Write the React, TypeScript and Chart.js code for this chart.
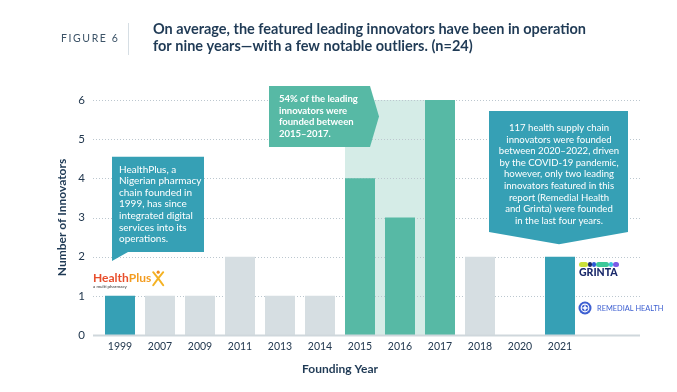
import React, { useEffect, useRef } from 'react';
import { Chart, registerables } from 'chart.js';

Chart.register(...registerables);

const years = ['1999', '2007', '2009', '2011', '2013', '2014', '2015', '2016', '2017', '2018', '2020', '2021'];
const innovators = [1, 1, 1, 2, 1, 1, 4, 3, 6, 2, 0, 2];
const barGroups = ['highlight', 'other', 'other', 'other', 'other', 'other', 'peak', 'peak', 'peak', 'other', 'other', 'highlight'];
const yTicks = [0, 1, 2, 3, 4, 5, 6];

const figureLabel = 'FIGURE 6';
const titleLines = [
  'On average, the featured leading innovators have been in operation',
  'for nine years\u2014with a few notable outliers. (n=24)',
];
const healthPlusNote = [
  'HealthPlus, a',
  'Nigerian pharmacy',
  'chain founded in',
  '1999, has since',
  'integrated digital',
  'services into its',
  'operations.',
];
const peakNote = ['54% of the leading', 'innovators were', 'founded between', '2015\u20132017.'];
const covidNote = [
  '117 health supply chain',
  'innovators were founded',
  'between 2020\u20132022, driven',
  'by the COVID-19 pandemic,',
  'however, only two leading',
  'innovators featured in this',
  'report (Remedial Health',
  'and Grinta) were founded',
  'in the last four years.',
];

const COLORS: Record<string, string> = {
  highlight: '#36a0b5',
  other: '#d6dee2',
  peak: '#57b9a5',
};
const NAVY = '#1f3a55';
const FONT = 'Lato, "Open Sans", sans-serif';

const deco = {
  id: 'deco',
  beforeDraw(chart: any) {
    const { ctx } = chart;
    ctx.save();
    ctx.fillStyle = '#ffffff';
    ctx.fillRect(0, 0, chart.width, chart.height);
    ctx.fillStyle = '#3d5468';
    ctx.font = `10.5px ${FONT}`;
    ctx.textBaseline = 'middle';
    ctx.textAlign = 'left';
    try { (ctx as any).letterSpacing = '1.6px'; } catch (e) {}
    ctx.fillText(figureLabel, 61, 38.5);
    try { (ctx as any).letterSpacing = '0px'; } catch (e) {}
    ctx.strokeStyle = '#d6dee4';
    ctx.lineWidth = 1;
    ctx.beginPath();
    ctx.moveTo(128.5, 23);
    ctx.lineTo(128.5, 55);
    ctx.stroke();
    ctx.fillStyle = NAVY;
    ctx.font = `bold 14.5px ${FONT}`;
    titleLines.forEach((t, i) => ctx.fillText(t, 153, 29.5 + i * 17));
    ctx.restore();
  },
  beforeDatasetsDraw(chart: any) {
    const { ctx, chartArea: ca, scales } = chart;
    const x = scales.x, y = scales.y;
    const meta = chart.getDatasetMeta(0);
    const bw = meta.data[6].width;
    ctx.save();
    const sl = x.getPixelForValue(6) - bw / 2;
    const sr = x.getPixelForValue(8) + bw / 2;
    const top = y.getPixelForValue(6);
    const bot = y.getPixelForValue(0);
    ctx.fillStyle = '#d5ece7';
    ctx.fillRect(sl, top, sr - sl, bot - top);
    const gl = ca.left - 7, gr = ca.right + 60;
    ctx.strokeStyle = '#bcc7cf';
    ctx.lineWidth = 1;
    ctx.setLineDash([1, 2]);
    yTicks.forEach((v) => {
      if (v === 0) return;
      const py = Math.round(y.getPixelForValue(v)) + 0.5;
      ctx.beginPath();
      ctx.moveTo(gl, py);
      ctx.lineTo(gr, py);
      ctx.stroke();
    });
    ctx.restore();
  },
  afterDatasetsDraw(chart: any) {
    const { ctx, chartArea: ca, scales } = chart;
    const x = scales.x, y = scales.y;
    const px = (i: number) => x.getPixelForValue(i);
    const py = (v: number) => y.getPixelForValue(v);
    const s = px(1) - px(0);
    ctx.save();
    const gl = ca.left - 7, gr = ca.right + 60;
    ctx.strokeStyle = '#cfd7dc';
    ctx.lineWidth = 2;
    ctx.beginPath();
    ctx.moveTo(gl, py(0) + 0.5);
    ctx.lineTo(gr, py(0) + 0.5);
    ctx.stroke();

    ctx.textBaseline = 'middle';

    {
      const l = px(0) - 0.2 * s, r = px(2) + 0.1 * s;
      const t = py(4.55), b = py(2.12);
      ctx.fillStyle = COLORS.highlight;
      ctx.beginPath();
      ctx.moveTo(l, t);
      ctx.lineTo(r, t);
      ctx.lineTo(r, b);
      ctx.lineTo(l + 16, b);
      ctx.lineTo(l, b + 9);
      ctx.closePath();
      ctx.fill();
      ctx.fillStyle = '#ffffff';
      ctx.font = `10px ${FONT}`;
      ctx.textAlign = 'left';
      healthPlusNote.forEach((line, i) => ctx.fillText(line, l + 7, t + 12.5 + i * 11.6));
    }

    {
      const l = px(4) - 11, r = px(6) + 10;
      const t = py(6) - 14, b = py(4.8);
      ctx.fillStyle = COLORS.peak;
      ctx.beginPath();
      ctx.moveTo(l, t);
      ctx.lineTo(r, t);
      ctx.lineTo(r + 9, (t + b) / 2);
      ctx.lineTo(r, b);
      ctx.lineTo(l, b);
      ctx.closePath();
      ctx.fill();
      ctx.fillStyle = '#ffffff';
      ctx.font = `bold 9.5px ${FONT}`;
      ctx.textAlign = 'left';
      peakNote.forEach((line, i) => ctx.fillText(line, l + 10, t + 13 + i * 11.5));
    }

    {
      const cx = px(11) - 1;
      const l = cx - 70, r = cx + 69;
      const t = py(5.72), b = py(2.63), tip = py(2.32);
      ctx.fillStyle = COLORS.highlight;
      ctx.beginPath();
      ctx.moveTo(l, t);
      ctx.lineTo(r, t);
      ctx.lineTo(r, b);
      ctx.lineTo(cx, tip);
      ctx.lineTo(l, b);
      ctx.closePath();
      ctx.fill();
      ctx.fillStyle = '#ffffff';
      ctx.font = `9.6px ${FONT}`;
      ctx.textAlign = 'center';
      covidNote.forEach((line, i) => ctx.fillText(line, cx, t + 17 + i * 11.6));
    }

    {
      const lx = ca.left - 7, ly = py(1.45);
      ctx.textAlign = 'left';
      ctx.textBaseline = 'alphabetic';
      ctx.font = `bold 12px ${FONT}`;
      ctx.fillStyle = '#e84e2c';
      ctx.fillText('Health', lx, ly + 4);
      const w1 = ctx.measureText('Health').width;
      ctx.fillStyle = '#f39c1f';
      ctx.fillText('Plus', lx + w1, ly + 4);
      const w2 = ctx.measureText('Plus').width;
      const fx = lx + w1 + w2 + 7;
      ctx.strokeStyle = '#f4b223';
      ctx.lineWidth = 2;
      ctx.lineCap = 'round';
      ctx.beginPath();
      ctx.moveTo(fx - 5, ly - 6);
      ctx.quadraticCurveTo(fx, ly, fx + 5, ly + 7);
      ctx.moveTo(fx + 5, ly - 6);
      ctx.quadraticCurveTo(fx, ly, fx - 5, ly + 7);
      ctx.stroke();
      ctx.fillStyle = '#f08a1c';
      ctx.beginPath();
      ctx.arc(fx, ly - 6, 1.6, 0, Math.PI * 2);
      ctx.fill();
      ctx.font = `4.5px ${FONT}`;
      ctx.fillStyle = '#333333';
      ctx.fillText('a multi pharmacy', lx, ly + 10);
    }

    {
      const lx = px(11) + 19, ly = py(1.8);
      const segs: [number, string][] = [
        [9, '#c9e03a'], [4, '#1b2a6b'], [4, '#2e5bd6'], [13, '#3cc99a'], [4, '#39c3e0'], [6, '#7a5ce6'],
      ];
      let cxp = lx;
      segs.forEach(([w, c]) => {
        ctx.fillStyle = c;
        ctx.beginPath();
        ctx.roundRect(cxp, ly - 2.5, w, 5, 2.5);
        ctx.fill();
        cxp += w;
      });
      ctx.fillStyle = '#1b2a6b';
      ctx.font = `900 10.5px ${FONT}`;
      ctx.textBaseline = 'middle';
      ctx.fillText('GRINTA', lx, ly + 8.5);
    }

    {
      const cxp = px(11) + 25, cy = py(0.69);
      ctx.fillStyle = '#3d5fd1';
      ctx.beginPath();
      ctx.arc(cxp, cy, 6.5, 0, Math.PI * 2);
      ctx.fill();
      ctx.strokeStyle = '#ffffff';
      ctx.lineWidth = 1.2;
      ctx.beginPath();
      ctx.arc(cxp, cy, 3.8, 0, Math.PI * 2);
      ctx.stroke();
      ctx.fillStyle = '#ffffff';
      ctx.fillRect(cxp - 0.8, cy - 2.5, 1.6, 5);
      ctx.fillRect(cxp - 2.5, cy - 0.8, 5, 1.6);
      ctx.fillStyle = '#3d5fd1';
      ctx.font = `7.4px ${FONT}`;
      ctx.textBaseline = 'middle';
      ctx.textAlign = 'left';
      ctx.fillText('REMEDIAL HEALTH', cxp + 12, cy + 0.5);
    }
    ctx.restore();
  },
};

export default function App() {
  const ref = useRef<HTMLCanvasElement | null>(null);
  useEffect(() => {
    if (!ref.current) return;
    const chart = new Chart(ref.current, {
      type: 'bar',
      data: {
        labels: years,
        datasets: [
          {
            data: innovators,
            backgroundColor: barGroups.map((g) => COLORS[g]),
            borderWidth: 0,
            barPercentage: 0.75,
            categoryPercentage: 1,
          },
        ],
      },
      options: {
        responsive: false,
        animation: false,
        devicePixelRatio: 1,
        layout: { padding: { left: 0, top: 100, right: 97, bottom: 0 } },
        plugins: { legend: { display: false }, tooltip: { enabled: false }, title: { display: false } },
        scales: {
          x: {
            afterFit: (sc: any) => { sc.height = 57; },
            grid: { display: false, drawTicks: false },
            border: { display: false },
            ticks: { padding: 5, color: '#22384f', font: { family: FONT, size: 10.5 } },
            title: {
              display: true,
              text: 'Founding Year',
              color: NAVY,
              font: { family: FONT, size: 12, weight: 'bold' },
              padding: { top: 0, bottom: 16 },
            },
          },
          y: {
            min: 0,
            max: 6,
            afterFit: (sc: any) => { sc.width = 100; },
            afterBuildTicks: (sc: any) => { sc.ticks = yTicks.map((v) => ({ value: v })); },
            grid: { display: false, drawTicks: false },
            border: { display: false },
            ticks: { padding: 15, color: '#22384f', font: { family: FONT, size: 11.5 } },
            title: {
              display: true,
              text: 'Number of Innovators',
              color: NAVY,
              font: { family: FONT, size: 12, weight: 'bold' },
              padding: { top: 55, bottom: 0 },
            },
          },
        },
      },
      plugins: [deco],
    });
    return () => chart.destroy();
  }, []);
  return (
    <div style={{ position: 'fixed', left: 0, top: 0, width: 677, height: 392, background: '#fff' }}>
      <canvas ref={ref} width={677} height={392} style={{ display: 'block', width: 677, height: 392 }} />
    </div>
  );
}
